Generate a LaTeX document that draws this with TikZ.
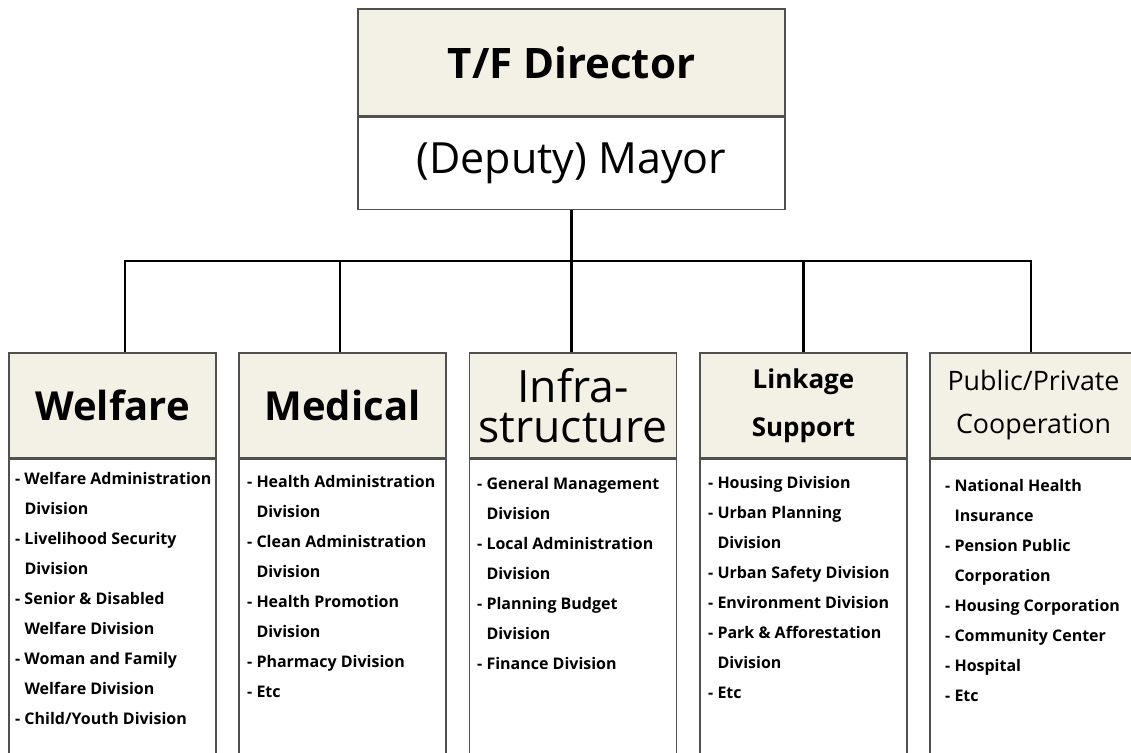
\documentclass[tikz,border=0pt]{standalone}
\usepackage{fontspec}
\setmainfont{Open Sans}
\usetikzlibrary{positioning}
\definecolor{headfill}{HTML}{F3F1E6}
\definecolor{boxline}{HTML}{505050}
\newcommand{\wrapind}{\phantom{-~}}
\tikzset{
  head/.style={draw=boxline, line width=1.5pt, fill=headfill, minimum width=207pt, minimum height=105pt, inner sep=0pt, align=center},
  listbox/.style={draw=boxline, line width=1.5pt, fill=white, minimum width=207pt, minimum height=320pt, inner sep=0pt, align=center},
  items/.style={anchor=north west, inner sep=0pt, align=left, font=\bfseries\fontsize{16}{30}\selectfont},
  conn/.style={line width=2.7pt, black}
}

\begin{document}
\begin{tikzpicture}[x=1pt,y=-1pt]
	\useasboundingbox (0,0) rectangle (1131,752);
	\clip (0,0) rectangle (1131,752);
	
	% top box
	\node[head, minimum width=427pt, minimum height=107pt, font=\bfseries\fontsize{42}{42}\selectfont] (director) at (571.5,62.5) {T/F Director};
	\node[listbox, minimum width=427pt, minimum height=92pt, below=0pt of director, font=\fontsize{43}{43}\selectfont] (mayor) {(Deputy) Mayor};
	
	% heads of the teams
	\node[head, font=\bfseries\fontsize{40}{40}\selectfont] (welfare) at (112.5,405.5) {Welfare};
	\node[head, font=\bfseries\fontsize{40}{40}\selectfont] (medical) at (342.5,405.5) {Medical};
	\node[head, font=\fontsize{44.5}{40}\selectfont] (infra) at (573,405.5) {Infra-\\structure};
	\node[head, font=\bfseries\fontsize{26}{48}\selectfont] (linkage) at (803.5,405.5) {Linkage\\Support};
	\node[head, font=\fontsize{26.8}{43}\selectfont] (coop) at (1033.5,405.5) {Public/Private\\Cooperation};
	
	% list boxes
	\foreach \team in {welfare,medical,infra,linkage,coop}
	\node[listbox, below=0pt of \team] (\team Box) {};
	
	% divisions
	\node[items] (welfareList) at (15,472) {- Welfare Administration\\ \wrapind Division\\ - Livelihood Security\\ \wrapind Division\\ - Senior \& Disabled\\ \wrapind Welfare Division\\ - Woman and Family\\ \wrapind Welfare Division\\ - Child/Youth Division};
	\node[items] (medicalList) at (247,475) {- Health Administration\\ \wrapind Division\\ - Clean Administration\\ \wrapind Division\\ - Health Promotion\\ \wrapind Division\\ - Pharmacy Division\\ - Etc};
	\node[items] (infraList) at (477,477) {- General Management\\ \wrapind Division\\ - Local Administration\\ \wrapind Division\\ - Planning Budget\\ \wrapind Division\\ - Finance Division};
	\node[items] (linkageList) at (708,476) {- Housing Division\\ - Urban Planning\\ \wrapind Division\\ - Urban Safety Division\\ - Environment Division\\ - Park \& Afforestation\\ \wrapind Division\\ - Etc};
	\node[items] (coopList) at (945,479) {- National Health\\ \wrapind Insurance\\ - Pension Public\\ \wrapind Corporation\\ - Housing Corporation\\ - Community Center\\ - Hospital\\ - Etc};
	
	% connectors
	\coordinate (bus) at (571.5,261);
	\draw[conn] (mayor.south) -- (mayor.south |- infra.north);
	\draw[conn] ([xshift=12.5pt]welfare.north) |- (bus) -| ([xshift=-2.5pt]coop.north);
	\draw[conn] ([xshift=-2.5pt]medical.north) -- ([xshift=-2.5pt]medical.north |- bus);
	\draw[conn] (linkage.north) -- (linkage.north |- bus);
\end{tikzpicture}
\end{document}
